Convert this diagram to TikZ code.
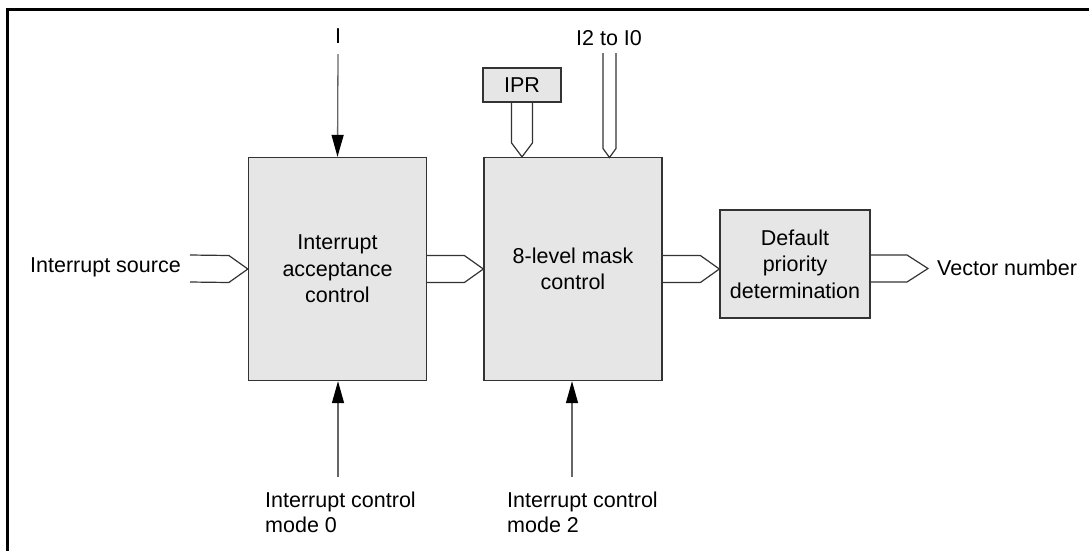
\documentclass[tikz,border=0pt]{standalone}
\usepackage{fontspec}
\setmainfont{Liberation Sans}
\usetikzlibrary{calc,arrows.meta}
\definecolor{blockfill}{HTML}{E6E6E6}
\definecolor{blockline}{HTML}{333333}
\definecolor{thinline}{HTML}{666666}
\tikzset{
  block/.style={draw=blockline, fill=blockfill, line width=1.3pt, inner sep=0pt,
     align=center, font=\fontsize{21.5}{26.5}\selectfont},
  lbl/.style={inner sep=0pt, font=\fontsize{21.5}{25}\selectfont},
  hollow/.style={draw=blockline, line width=1.2pt, line join=miter},
  thinarrow/.style={draw=thinline, line width=1.3pt, -{Triangle[length=22pt,width=12pt,fill=black,color=black]}},
}
\newcommand{\hollowH}[4]{\draw[hollow] ($(#1)+(0,#3)$) -- ($(#2)+(-#4,#3)$) -- (#2) -- ($(#2)+(-#4,-#3)$) -- ($(#1)+(0,-#3)$);}
\newcommand{\hollowV}[4]{\draw[hollow] ($(#1)+(#3,0)$) -- ($(#2)+(#3,-#4)$) -- (#2) -- ($(#2)+(-#3,-#4)$) -- ($(#1)+(-#3,0)$);}
\begin{document}
\begin{tikzpicture}[x=1pt,y=-1pt]
\useasboundingbox (0,0) rectangle (1089,550);
% frame
\draw[line width=2.6pt] (7.5,560) -- (7.5,9.3) -- (1095,9.3);
% blocks
\node[block, minimum width=178pt, minimum height=223pt] (A) at (337.5,269) {Interrupt\\acceptance\\control};
\node[block, minimum width=178pt, minimum height=223pt] (B) at (573,269) {8-level mask\\control};
\node[block, minimum width=150pt, minimum height=108pt] (C) at (795,264) {Default\\priority\\determination};
\node[block, minimum width=78pt, minimum height=34pt] (IPR) at (522,85) {IPR};
% labels
\node[lbl] (lI) at (338,36) {I};
\node[lbl] (lI2) at (609,38) {I2 to I0};
\coordinate (srcS) at (190,268.5);
\node[lbl, anchor=east] (src) at (181,267) {Interrupt source};
\coordinate (vecS) at (870,268.5);
\node[lbl, anchor=west] (vec) at (937,268) {Vector number};
\node[lbl, anchor=base west, align=left] (m0) at (265,532) {Interrupt control\\mode 0};
\node[lbl, anchor=base west, align=left] (m2) at (507,532) {Interrupt control\\mode 2};
% thin arrows
\coordinate (iS) at (338,54);
\coordinate (m0S) at (338,477);
\coordinate (m2S) at (572,477);
\draw[thinarrow] (iS) -- (A.north);
\draw[thinarrow] (m0S) -- (m0S |- A.south);
\draw[thinarrow] (m2S) -- (m2S |- B.south);
% hollow arrows horizontal
\hollowH{srcS}{A.west}{13.5}{19}
\hollowH{A.east}{B.west}{13.5}{19}
\coordinate (bcT) at (C.west |- B.east);
\hollowH{B.east}{bcT}{13.5}{19}
\coordinate (vecT) at (928,268.5);
\hollowH{vecS}{vecT}{13.5}{21}
% hollow arrows vertical
\coordinate (iprT) at (IPR.south |- B.north);
\hollowV{IPR.south}{iprT}{10.5}{14}
\coordinate (i2S) at (609.5,53);
\coordinate (i2T) at (609.5,157.5);
\hollowV{i2S}{i2T}{6.5}{9}
\end{tikzpicture}
\end{document}
